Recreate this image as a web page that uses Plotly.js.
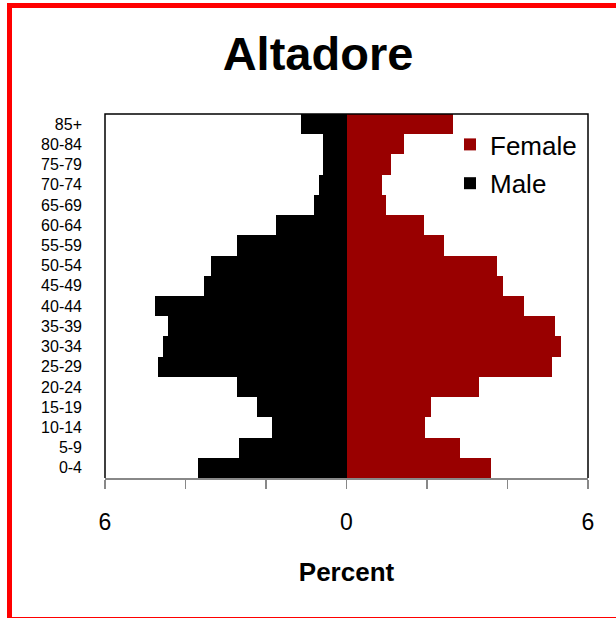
<!DOCTYPE html>
<html>
<head>
<meta charset="utf-8">
<script src="https://cdn.plot.ly/plotly-3.0.1.min.js"></script>
<style>
  html, body { margin: 0; padding: 0; background: #fff; overflow: hidden; }
  #chart { width: 616px; height: 618px; }
</style>
</head>
<body>
<div id="chart"></div>
<script>
// Age groups (bottom to top)
const ageGroups = ['0-4','5-9','10-14','15-19','20-24','25-29','30-34','35-39','40-44',
                   '45-49','50-54','55-59','60-64','65-69','70-74','75-79','80-84','85+'];
// Percent of population
const femalePct = [3.58, 2.81, 1.94, 2.09, 3.30, 5.11, 5.32, 5.17, 4.40,
                   3.90, 3.74, 2.43, 1.93, 0.99, 0.88, 1.11, 1.44, 2.65];
const malePct   = [3.70, 2.67, 1.84, 2.23, 2.73, 4.69, 4.55, 4.43, 4.75,
                   3.54, 3.37, 2.73, 1.74, 0.81, 0.69, 0.59, 0.59, 1.12];
const xTickVals = [-6, -4, -2, 0, 2, 4, 6];
const xTickText = ['6', '', '', '0', '', '', '6'];

const FONT = 'Liberation Sans, Arial, Helvetica, sans-serif';

// pixel helpers for the paper-coordinate frame
const L = 105, R = 588, T = 114, B = 478, W = 616, H = 618;
const px = v => (v - L) / (R - L);
const py = v => (B - v) / (B - T);

const traces = [
  {
    type: 'bar', orientation: 'h', name: 'Female', legendgroup: 'f',
    y: ageGroups, x: femalePct,
    marker: { color: '#990000', line: { width: 0 } },
    hoverinfo: 'y+x'
  },
  {
    type: 'bar', orientation: 'h', name: 'Male', legendgroup: 'm',
    y: ageGroups, x: malePct.map(v => -v),
    customdata: malePct,
    marker: { color: '#000000', line: { width: 0 } },
    hovertemplate: '%{y}: %{customdata}<extra>Male</extra>'
  }
];

const layout = {
  width: W, height: H,
  margin: { l: L, r: W - R, t: T, b: H - B, pad: 0 },
  paper_bgcolor: '#ffffff',
  plot_bgcolor: '#ffffff',
  font: { family: FONT, color: '#000' },
  barmode: 'overlay',
  bargap: 0,
  title: {
    text: '<b>Altadore</b>',
    font: { family: FONT, size: 47, color: '#000' },
    x: 318 / W, xanchor: 'center',
    y: 1 - 54 / H, yanchor: 'middle',
    xref: 'container', yref: 'container'
  },
  xaxis: {
    range: [-6, 6],
    tickvals: xTickVals, ticktext: xTickText,
    ticks: 'outside', ticklen: 9, tickwidth: 1.5, tickcolor: '#888888',
    showline: true, linecolor: '#888888', linewidth: 1.5,
    showgrid: false, zeroline: false,
    tickfont: { family: FONT, size: 23, color: '#000' },
    ticklabelstandoff: 14,
    title: { text: '<b>Percent</b>', font: { family: FONT, size: 26, color: '#000' }, standoff: 28 },
    fixedrange: true
  },
  yaxis: {
    type: 'category',
    categoryorder: 'array', categoryarray: ageGroups,
    showline: false, showgrid: false, zeroline: false,
    ticks: '',
    tickfont: { family: FONT, size: 16, color: '#000' },
    ticklabelstandoff: 22,
    fixedrange: true
  },
  legend: {
    x: px(450), y: py(121), xanchor: 'left', yanchor: 'top',
    bgcolor: 'rgba(0,0,0,0)',
    font: { family: FONT, size: 26, color: '#000' },
    itemwidth: 30,
    traceorder: 'grouped',
    tracegroupgap: 2
  },
  shapes: [
    // plot frame: left, top, right (bottom is the grey axis line)
    {
      type: 'path', xref: 'paper', yref: 'paper',
      path: 'M 0 0 L 0 1 L 1 1 L 1 0',
      line: { color: '#000', width: 1.5 }, layer: 'above'
    },
    // red outer frame: left + top (right side lies beyond the image)
    {
      type: 'path', xref: 'paper', yref: 'paper',
      path: 'M ' + px(9.5) + ' ' + py(640) + ' L ' + px(9.5) + ' ' + py(5.5) + ' L ' + px(700) + ' ' + py(5.5),
      line: { color: '#ff0000', width: 5 }, layer: 'above'
    },
    // red outer frame: bottom, mostly cut by the image edge
    {
      type: 'line', xref: 'paper', yref: 'paper',
      x0: px(7), x1: px(700), y0: py(619.5), y1: py(619.5),
      line: { color: '#ff0000', width: 5 }, layer: 'above'
    }
  ]
};

Plotly.newPlot('chart', traces, layout, { displayModeBar: false, staticPlot: true });
</script>
</body>
</html>
